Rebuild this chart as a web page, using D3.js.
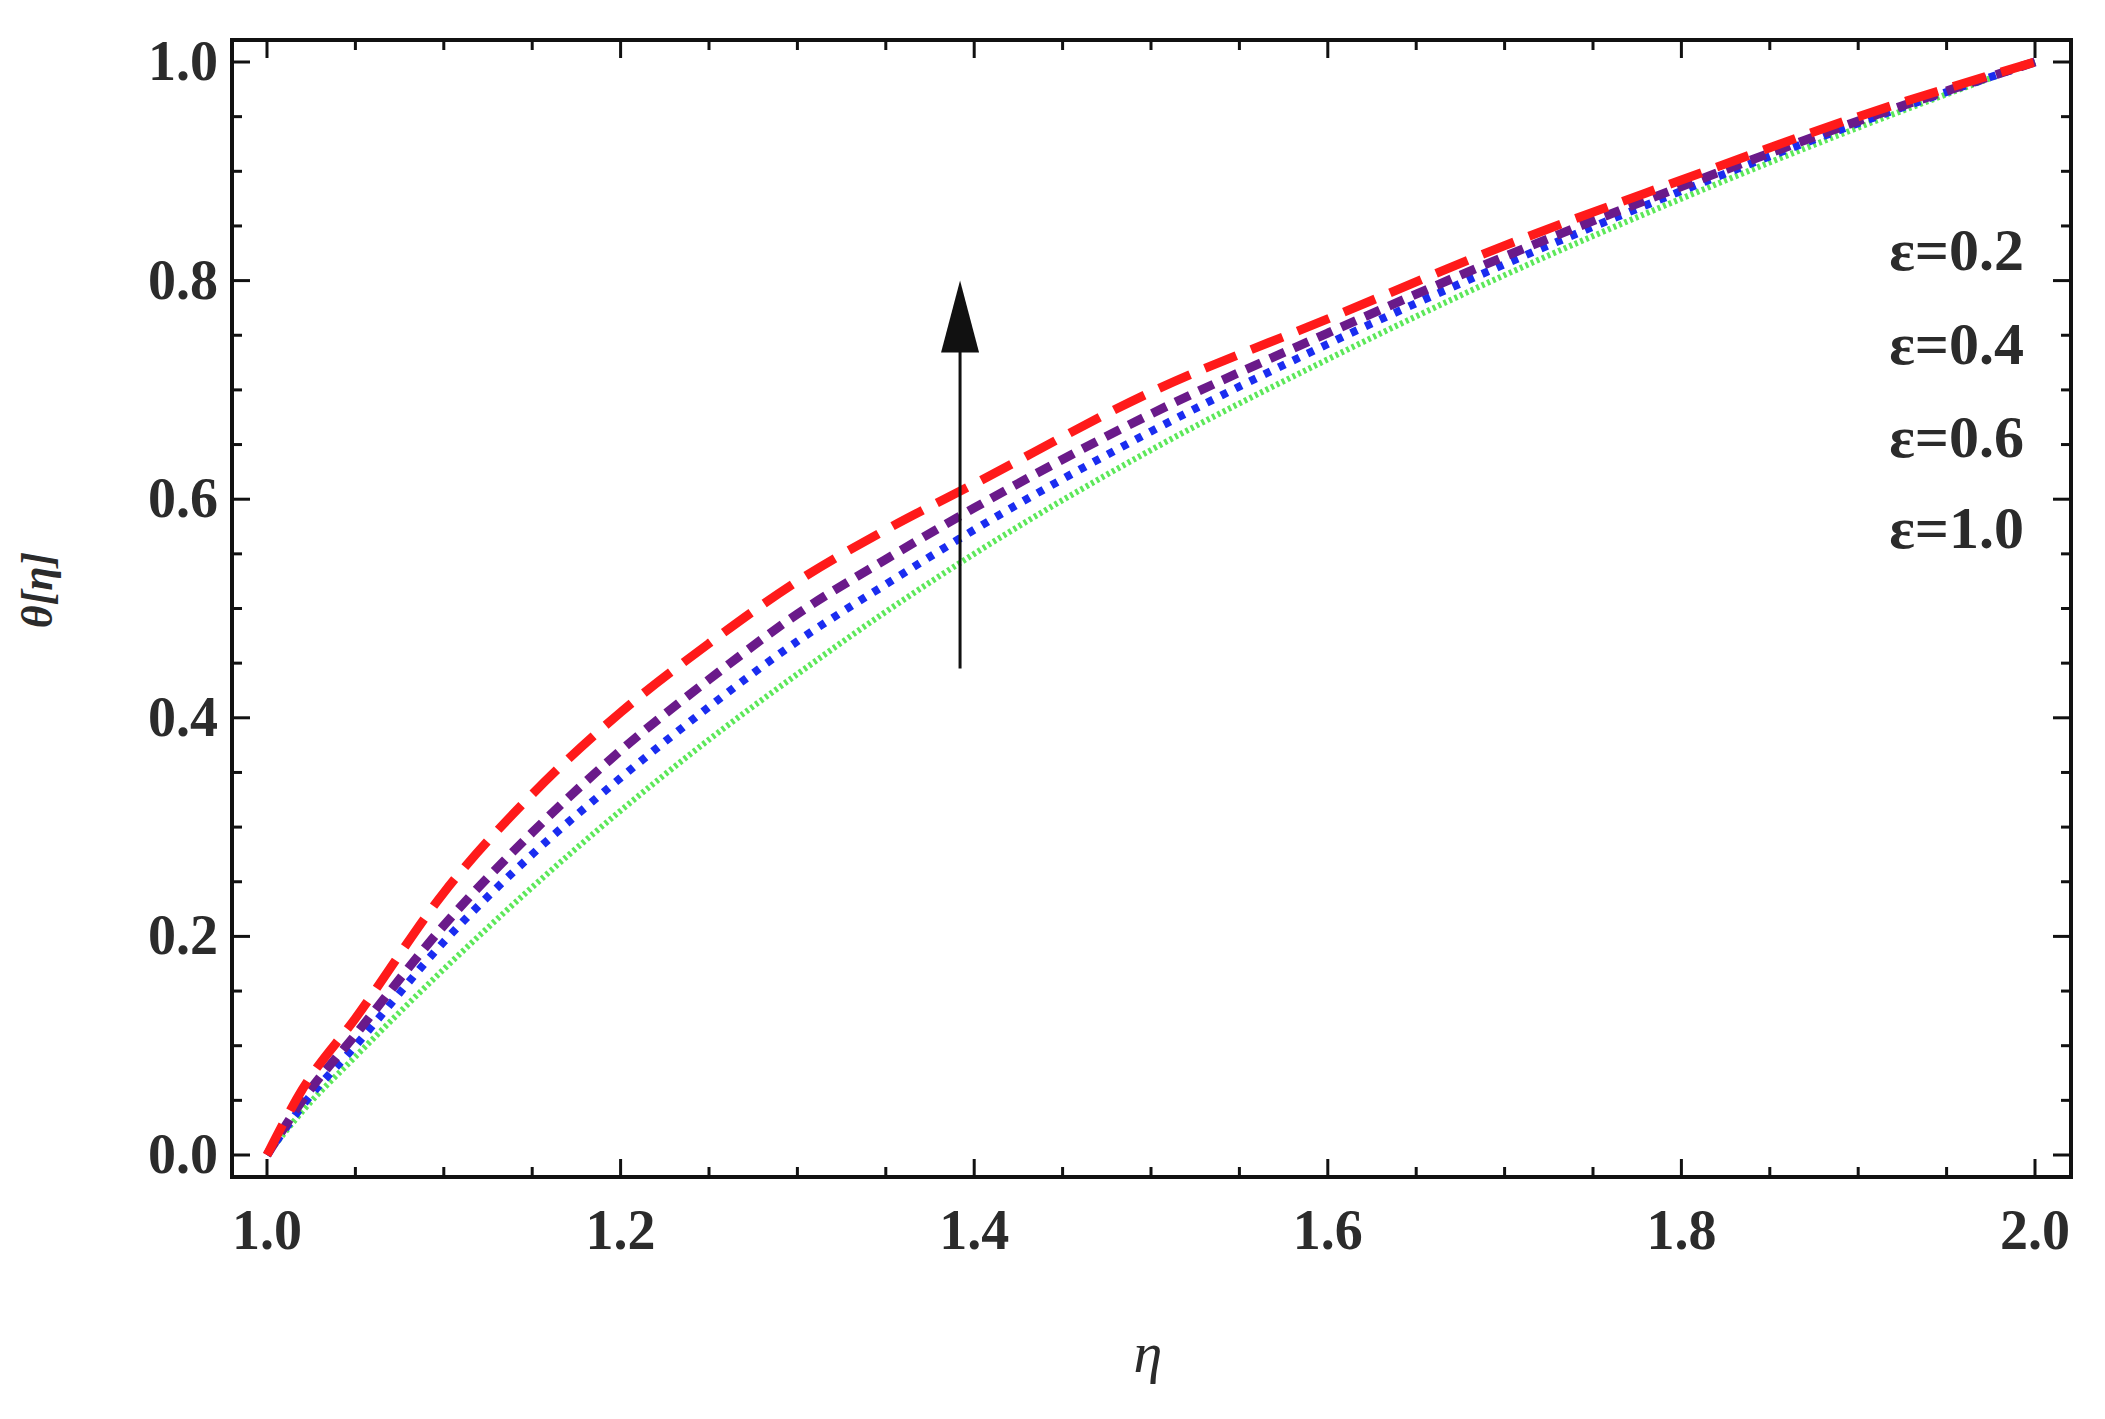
<!DOCTYPE html>
<html><head><meta charset="utf-8">
<script src="https://cdn.jsdelivr.net/npm/d3@7"></script>
<style>body{margin:0;background:#fff}</style></head>
<body><svg id="c" width="2105" height="1419"></svg>
<script>
const etaVals = [1.0,1.02,1.05,1.1,1.15,1.2,1.25,1.3,1.35,1.4,1.5,1.6,1.7,1.8,1.9,2.0];
const seriesLabels = ["ε=0.2","ε=0.4","ε=0.6","ε=1.0"];
const green  = [0,0.04,0.09,0.17,0.245,0.315,0.38,0.44,0.497,0.55,0.645,0.728,0.805,0.875,0.94,1.0];
const blue   = [0,0.045,0.10,0.195,0.275,0.345,0.41,0.47,0.522,0.572,0.662,0.742,0.815,0.882,0.944,1.0];
const purple = [0,0.05,0.11,0.21,0.295,0.37,0.435,0.495,0.545,0.592,0.678,0.752,0.822,0.886,0.946,1.0];
const red    = [0,0.06,0.125,0.24,0.33,0.405,0.468,0.525,0.572,0.614,0.698,0.765,0.832,0.892,0.95,1.0];
const xTicks = [1.0,1.2,1.4,1.6,1.8,2.0];
const yTicks = [0.0,0.2,0.4,0.6,0.8,1.0];
const arrowFrom = [1.392,0.445], arrowTo = [1.392,0.80];

const svg = d3.select("#c");
const L=232,R=2071,T=40,B=1177;
const x = d3.scaleLinear().domain([1,2]).range([267,2035]);
const y = d3.scaleLinear().domain([0,1]).range([1155,62]);
const font = "'Liberation Serif','DejaVu Serif',serif";
const col = "#2b2b2b";

const line = d3.line().x((d,i)=>x(etaVals[i])).y(d=>y(d)).curve(d3.curveMonotoneX);
const styles = [
  {d:green,c:"#5de85a",w:6,dash:"3,3"},
  {d:blue,c:"#1a2cf0",w:8,dash:"7,9"},
  {d:purple,c:"#6a1a8a",w:9,dash:"16,10"},
  {d:red,c:"#ff1a1a",w:9,dash:"34,16"}
];
styles.forEach(s=>svg.append("path").attr("d",line(s.d)).attr("fill","none")
  .attr("stroke",s.c).attr("stroke-width",s.w).attr("stroke-dasharray",s.dash));

svg.append("rect").attr("x",L).attr("y",T).attr("width",R-L).attr("height",B-T)
  .attr("fill","none").attr("stroke","#111").attr("stroke-width",4);

const minorX = d3.range(1.0,2.0001,0.05);
minorX.forEach(v=>{
  const major = xTicks.some(t=>Math.abs(t-v)<1e-6);
  const len = major?18:10;
  svg.append("line").attr("x1",x(v)).attr("x2",x(v)).attr("y1",B).attr("y2",B-len).attr("stroke","#111").attr("stroke-width",3);
  svg.append("line").attr("x1",x(v)).attr("x2",x(v)).attr("y1",T).attr("y2",T+len).attr("stroke","#111").attr("stroke-width",3);
});
const minorY = d3.range(0,1.0001,0.05);
minorY.forEach(v=>{
  const major = yTicks.some(t=>Math.abs(t-v)<1e-6);
  const len = major?18:10;
  svg.append("line").attr("y1",y(v)).attr("y2",y(v)).attr("x1",L).attr("x2",L+len).attr("stroke","#111").attr("stroke-width",3);
  svg.append("line").attr("y1",y(v)).attr("y2",y(v)).attr("x1",R).attr("x2",R-len).attr("stroke","#111").attr("stroke-width",3);
});
xTicks.forEach(v=>svg.append("text").attr("x",x(v)).attr("y",B+72).attr("text-anchor","middle")
  .attr("font-family",font).attr("font-size",56).attr("font-weight","bold").attr("fill",col).text(v.toFixed(1)));
yTicks.forEach(v=>svg.append("text").attr("x",L-14).attr("y",y(v)+18).attr("text-anchor","end")
  .attr("font-family",font).attr("font-size",56).attr("font-weight","bold").attr("fill",col).text(v.toFixed(1)));

svg.append("text").attr("x",1148).attr("y",1372).attr("text-anchor","middle").attr("font-family",font)
  .attr("font-style","italic").attr("font-size",58).attr("fill",col).text("η");
svg.append("text").attr("transform","translate(52,590) rotate(-90)").attr("text-anchor","middle").attr("font-family",font)
  .attr("font-style","italic").attr("font-weight","bold").attr("font-size",44).attr("fill",col).text("θ[η]");

seriesLabels.forEach((t,i)=>svg.append("text").attr("x",2024).attr("y",[270,364,457,548][i]).attr("text-anchor","end")
  .attr("font-family",font).attr("font-size",60).attr("font-weight","bold").attr("fill",col).text(t));

svg.append("line").attr("x1",x(arrowFrom[0])).attr("x2",x(arrowTo[0])).attr("y1",y(arrowFrom[1])).attr("y2",y(arrowTo[1])+50)
  .attr("stroke","#111").attr("stroke-width",3);
const ax=x(arrowTo[0]), ay=y(arrowTo[1]);
svg.append("path").attr("d",`M${ax},${ay} L${ax-19},${ay+72} L${ax+19},${ay+72} Z`).attr("fill","#111");
</script></body></html>
